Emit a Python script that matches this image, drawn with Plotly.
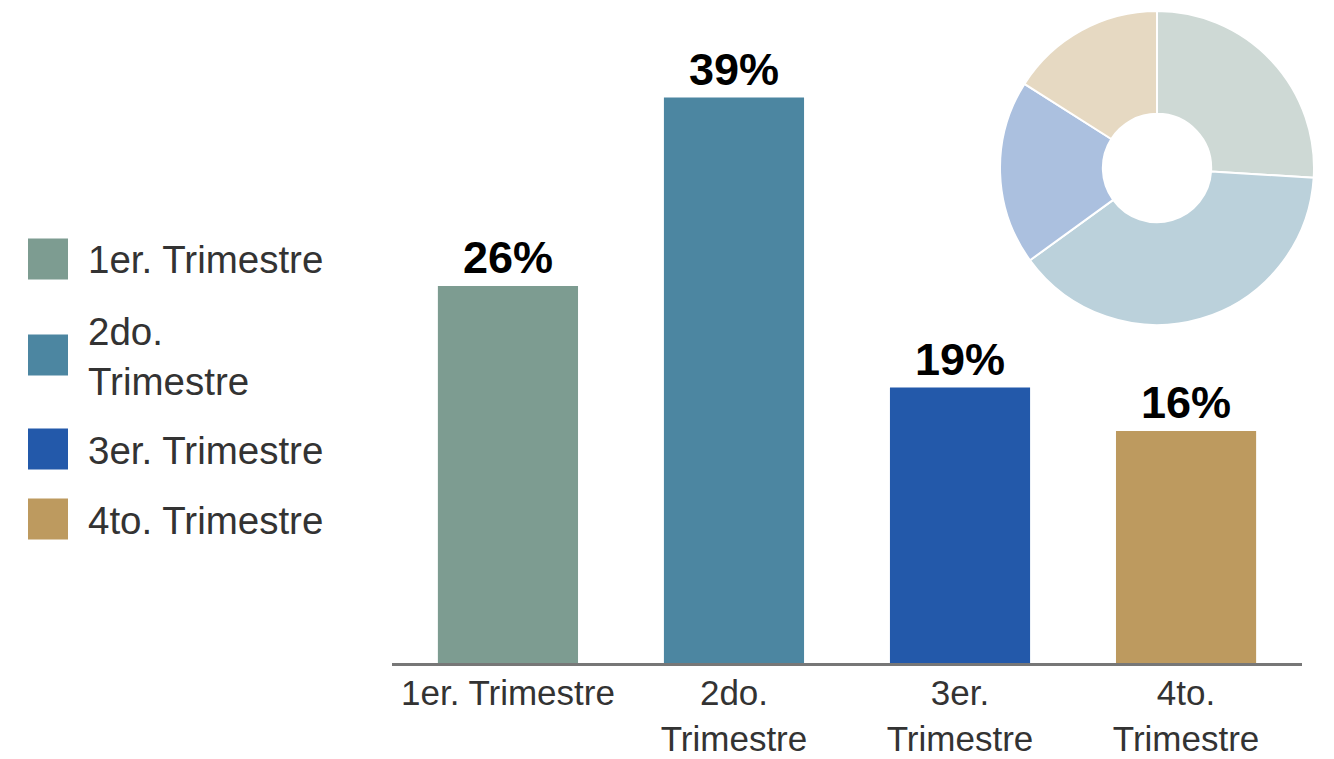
import plotly.graph_objects as go

# Quarterly share data
categories = ["1er. Trimestre", "2do. Trimestre", "3er. Trimestre", "4to. Trimestre"]
tick_labels = ["1er. Trimestre", "2do.<br>Trimestre", "3er.<br>Trimestre", "4to.<br>Trimestre"]
legend_labels = ["1er. Trimestre", "2do.<br>Trimestre", "3er. Trimestre", "4to. Trimestre"]
values = [26, 39, 19, 16]
bar_colors = ["#7D9C91", "#4C86A1", "#2359AA", "#BD9A5F"]
pie_colors = ["rgba(125,156,145,0.38)", "rgba(76,134,161,0.38)",
              "rgba(35,89,170,0.38)", "rgba(189,154,95,0.38)"]

W, H = 1334, 759
FONT = "Liberation Sans"
TEXT_COLOR = "#333333"

fig = go.Figure()

fig.add_trace(go.Bar(
    x=categories,
    y=values,
    width=0.62,
    marker=dict(color=bar_colors, line=dict(width=0)),
    text=[f"{v}%" for v in values],
    textposition="outside",
    textfont=dict(family=FONT, size=45, color="#000000", weight="bold"),
    cliponaxis=False,
    showlegend=False,
))

# Donut in the upper right corner
fig.add_trace(go.Pie(
    labels=categories,
    values=values,
    hole=0.345,
    sort=False,
    direction="clockwise",
    rotation=0,
    textinfo="none",
    marker=dict(colors=pie_colors, line=dict(color="#FFFFFF", width=2)),
    domain=dict(x=[1000 / W, 1314 / W], y=[1 - 325 / H, 1 - 11 / H]),
    showlegend=False,
))

# Hand-built legend on the left
shapes = []
annotations = []
legend_y = [259, 355, 449, 519]
for lab, col, yc in zip(legend_labels, bar_colors, legend_y):
    shapes.append(dict(
        type="rect", xref="paper", yref="paper",
        x0=28 / W, x1=68 / W, y0=1 - (yc + 20.5) / H, y1=1 - (yc - 20.5) / H,
        fillcolor=col, line=dict(width=0),
    ))
    annotations.append(dict(
        xref="paper", yref="paper", x=86 / W, y=1 - (yc + 1) / H,
        xanchor="left", yanchor="middle", align="left",
        text=lab, showarrow=False,
        font=dict(family=FONT, size=38.5, color=TEXT_COLOR),
    ))

fig.update_layout(
    width=W, height=H,
    margin=dict(l=0, r=0, t=0, b=0),
    paper_bgcolor="white", plot_bgcolor="white",
    bargap=0.38,
    shapes=shapes,
    annotations=annotations,
    xaxis=dict(
        domain=[392 / W, 1302 / W],
        range=[-0.513, 3.513],
        automargin=False,
        tickmode="array", tickvals=categories, ticktext=tick_labels,
        showline=True, linecolor="#777777", linewidth=3,
        showgrid=False, zeroline=False, ticks="",
        ticklabelstandoff=-3,
        tickfont=dict(family=FONT, size=35, color=TEXT_COLOR),
    ),
    yaxis=dict(
        domain=[1 - 663 / H, 1 - 10.5 / H],
        range=[0, 45],
        automargin=False,
        visible=False,
    ),
)

fig.write_html("out.html")
